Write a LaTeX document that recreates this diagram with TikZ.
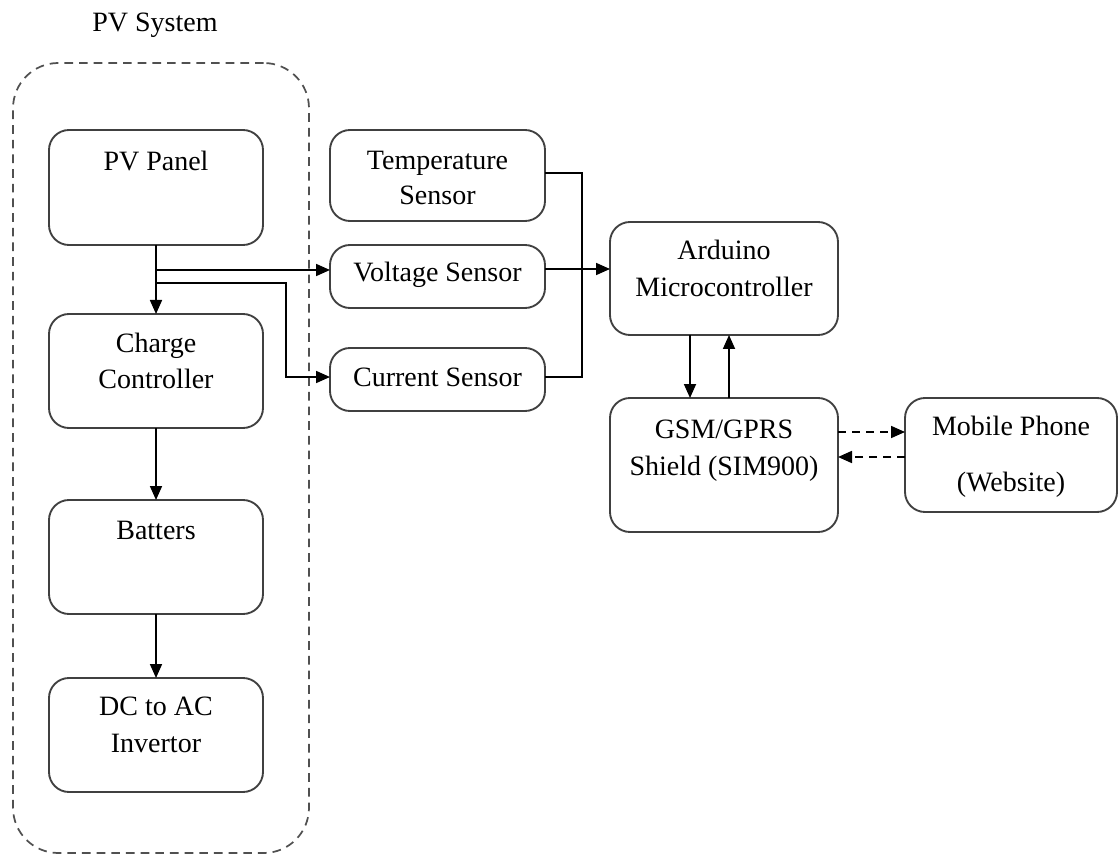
\documentclass[tikz,border=0pt]{standalone}
\usepackage{fontspec}
\setmainfont{Liberation Serif}
\usetikzlibrary{arrows.meta,calc}

\definecolor{boxgray}{HTML}{404040}
\definecolor{dashgray}{HTML}{505050}

\tikzset{
  box/.style={draw=boxgray, line width=1.4pt, rounded corners=15pt,
              inner sep=0pt, outer sep=0pt, fill=white},
  wh/.style 2 args={minimum width=#1*0.75pt, minimum height=#2*0.75pt},
  lbl/.style={anchor=base, inner sep=0pt, font=\fontsize{21}{25}\selectfont},
  wire/.style={draw=black, line width=1.3pt},
  arr/.style={wire, -{Triangle[length=10.5pt,width=9pt]}},
  dasharr/.style={arr, dash pattern=on 6pt off 4.5pt},
}

\begin{document}
\begin{tikzpicture}[x=0.75pt, y=-0.75pt]
\useasboundingbox (0,0) rectangle (1120,855);

% PV system enclosure
\node[draw=dashgray, line width=1.3pt, dash pattern=on 6.5pt off 4.5pt,
      rounded corners=34pt, inner sep=0pt, wh={296}{790}] (pvsys) at (161,458) {};
\node[lbl] (pvsyslbl) at (155,32) {PV System};

% blocks
\node[box, wh={214}{115}] (pv)  at (156,187.5) {};
\node[box, wh={214}{114}] (cc)  at (156,371) {};
\node[box, wh={214}{114}] (bat) at (156,557) {};
\node[box, wh={214}{114}] (inv) at (156,735) {};
\node[box, wh={215}{91}]  (ts)  at (437.5,175.5) {};
\node[box, wh={215}{63}]  (vs)  at (437.5,276.5) {};
\node[box, wh={215}{63}]  (cs)  at (437.5,379.5) {};
\node[box, wh={228}{113}] (ard) at (724,278.5) {};
\node[box, wh={228}{134}] (gsm) at (724,465) {};
\node[box, wh={212}{114}] (mob) at (1011,455) {};

% block texts
\node[lbl] (pvt)   at (156,171) {PV Panel};
\node[lbl] (cct1)  at (156,353) {Charge};
\node[lbl] (cct2)  at (156,388) {Controller};
\node[lbl] (batt)  at (156,539) {Batters};
\node[lbl] (invt1) at (156,715) {DC to AC};
\node[lbl] (invt2) at (156,752) {Invertor};
\node[lbl] (tst1)  at (437.5,170) {Temperature};
\node[lbl] (tst2)  at (437.5,205) {Sensor};
\node[lbl] (vst)   at (437.5,282) {Voltage Sensor};
\node[lbl] (cst)   at (437.5,386) {Current Sensor};
\node[lbl] (ardt1) at (724,260) {Arduino};
\node[lbl] (ardt2) at (724,297) {Microcontroller};
\node[lbl] (gsmt1) at (724,438) {GSM/GPRS};
\node[lbl] (gsmt2) at (724,475) {Shield (SIM900)};
\node[lbl] (mobt1) at (1011,435) {Mobile Phone};
\node[lbl] (mobt2) at (1011,491) {(Website)};

% junction and routing points
\coordinate (j1) at (156,270);
\coordinate (j2) at (156,283);
\coordinate (k2) at (286,377);
\coordinate (bt) at (582,173);
\coordinate (bb) at (582,377);
\coordinate (vy) at (582,269);
\coordinate (down) at (690,0);
\coordinate (up) at (729,0);
\coordinate (d1) at (0,432);
\coordinate (d2) at (0,457);

% power chain
\draw[arr] (pv.south) -- (cc.north);
\draw[arr] (cc.south) -- (bat.north);
\draw[arr] (bat.south) -- (inv.north);

% taps to the sensors
\draw[arr] (j1) -- (j1 -| vs.west);
\draw[arr] (j2) -| (k2) -- (k2 -| cs.west);

% sensor bus to the microcontroller
\draw[wire] (bt -| ts.east) -- (bt) -- (bb) -- (bb -| cs.east);
\draw[arr] (vy -| vs.east) -- (vy -| ard.west);

% microcontroller <-> GSM shield
\draw[arr] (ard.south -| down) -- (gsm.north -| down);
\draw[arr] (gsm.north -| up) -- (ard.south -| up);

% wireless link
\draw[dasharr] (d1 -| gsm.east) -- (d1 -| mob.west);
\draw[dasharr] (d2 -| mob.west) -- (d2 -| gsm.east);
\end{tikzpicture}
\end{document}
